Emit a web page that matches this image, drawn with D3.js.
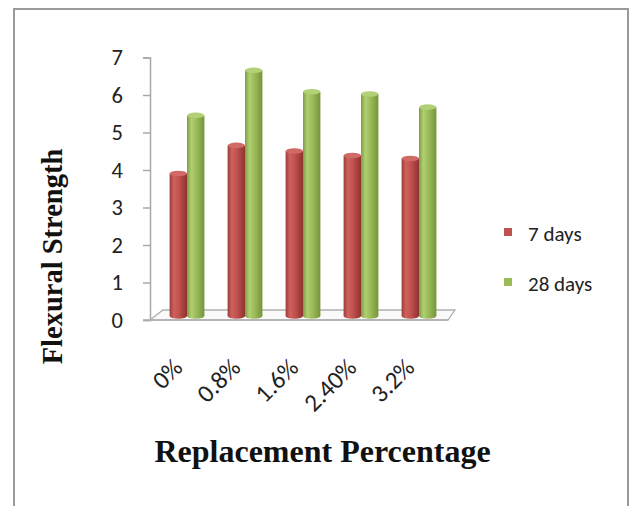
<!DOCTYPE html>
<html>
<head>
<meta charset="utf-8">
<script src="https://cdn.jsdelivr.net/npm/d3@7"></script>
<style>
  html, body { margin: 0; padding: 0; background: #ffffff; }
  svg { display: block; }
</style>
</head>
<body>
<svg id="chart" width="634" height="506"></svg>
<script>
// ---- data ----
const categories = ["0%", "0.8%", "1.6%", "2.40%", "3.2%"];
const seriesNames = ["7 days", "28 days"];
const days7 = [3.8, 4.55, 4.4, 4.28, 4.2];
const days28 = [5.35, 6.55, 5.98, 5.92, 5.57];
const yTicks = [0, 1, 2, 3, 4, 5, 6, 7];
const colors = ["#C0504D", "#9BBB59"];

const svg = d3.select("#chart");
const tickFont = "Carlito, Lato, 'Liberation Sans', sans-serif";
const titleFont = "'Liberation Serif', 'Times New Roman', serif";

// frame
svg.append("rect")
  .attr("x", 14).attr("y", 9).attr("width", 614).attr("height", 520)
  .attr("fill", "#ffffff").attr("stroke", "#9a9a9a").attr("stroke-width", 2);

// scales
const y = d3.scaleLinear().domain([0, 7]).range([320, 57.5]);
const x0 = d3.scaleBand().domain(categories).range([158, 448]).paddingInner(0.4).paddingOuter(0.2);
const x1 = d3.scaleBand().domain(seriesNames).range([0, x0.bandwidth()]).padding(0);

// depth offset (bars stand in the middle of the floor depth)
const depthDx = 0, depthDy = -4;

// floor
const floorG = svg.append("g");
floorG.append("polygon")
  .attr("points", [[150, 320], [163, 310], [455, 310], [448, 320]].map(p => p.join(",")).join(" "))
  .attr("fill", "#fafafa").attr("stroke", "#b0b0b0").attr("stroke-width", 1.3);

// y axis
const yAxis = d3.axisLeft(y).tickValues(yTicks).tickSize(7).tickPadding(20).tickFormat(d3.format("d"));
const yAxisG = svg.append("g").attr("transform", "translate(150,0)").call(yAxis);
yAxisG.select(".domain").attr("stroke", "#a8a8a8").attr("stroke-width", 1.5);
yAxisG.selectAll(".tick line").attr("stroke", "#a8a8a8").attr("stroke-width", 1.5);
yAxisG.selectAll(".tick text")
  .attr("font-family", tickFont).attr("font-size", 22.5).attr("fill", "#222");
// front floor edge extended to tick
svg.append("line").attr("x1", 143).attr("x2", 448).attr("y1", y(0)).attr("y2", y(0))
  .attr("stroke", "#b0b0b0").attr("stroke-width", 1.3);

// gradients
const defs = svg.append("defs");
const gradStops = [
  [["0%", "#9c3c39"], ["25%", "#cf625e"], ["55%", "#c0504d"], ["100%", "#8e332f"]],
  [["0%", "#7e9e41"], ["25%", "#b0cf72"], ["55%", "#9bbb59"], ["100%", "#76933a"]]
];
gradStops.forEach((stops, i) => {
  const g = defs.append("linearGradient").attr("id", "grad" + i)
    .attr("x1", "0%").attr("x2", "100%").attr("y1", "0%").attr("y2", "0%");
  stops.forEach(s => g.append("stop").attr("offset", s[0]).attr("stop-color", s[1]));
});
const capColors = ["#d06a66", "#b2d076"];

// bars (cylinders)
const data = categories.map((c, i) => ({ cat: c, vals: [days7[i], days28[i]] }));
const barG = svg.append("g");
const groups = barG.selectAll("g.grp").data(data).join("g")
  .attr("class", "grp")
  .attr("transform", d => `translate(${x0(d.cat) + depthDx},${depthDy})`);

groups.each(function (d) {
  const g = d3.select(this);
  [1, 0].forEach(si => {
    const v = d.vals[si];
    const bx = x1(seriesNames[si]);
    const w = x1.bandwidth();
    const top = y(v), base = y(0);
    const ry = 2.8;
    g.append("ellipse").attr("cx", bx + w / 2).attr("cy", base).attr("rx", w / 2).attr("ry", ry)
      .attr("fill", `url(#grad${si})`);
    g.append("rect").attr("x", bx).attr("y", top).attr("width", w).attr("height", base - top)
      .attr("fill", `url(#grad${si})`);
    g.append("ellipse").attr("cx", bx + w / 2).attr("cy", top).attr("rx", w / 2).attr("ry", ry)
      .attr("fill", capColors[si]);
  });
});

// x tick labels
svg.append("g").selectAll("text").data(categories).join("text")
  .attr("transform", d => `translate(${x0(d) + x0.bandwidth() / 2 - 3},369) rotate(-45)`)
  .attr("text-anchor", "end")
  .attr("font-family", tickFont).attr("font-size", 25).attr("fill", "#222")
  .text(d => d);

// legend
const legend = svg.append("g");
const legY = [232, 282];
seriesNames.forEach((s, i) => {
  legend.append("rect").attr("x", 504).attr("y", legY[i] - 4).attr("width", 8).attr("height", 8)
    .attr("fill", colors[i]);
  legend.append("text").attr("x", 528).attr("y", legY[i] + 2).attr("dy", "0.35em")
    .attr("font-family", tickFont).attr("font-size", 21).attr("fill", "#222").text(s);
});

// axis titles
svg.append("text")
  .attr("transform", "translate(62,256.5) rotate(-90)")
  .attr("text-anchor", "middle")
  .attr("font-family", titleFont).attr("font-weight", "bold").attr("font-size", 28.5)
  .attr("fill", "#111").text("Flexural Strength");
svg.append("text")
  .attr("x", 322.5).attr("y", 462)
  .attr("text-anchor", "middle")
  .attr("font-family", titleFont).attr("font-weight", "bold").attr("font-size", 32)
  .attr("fill", "#111").text("Replacement Percentage");
</script>
</body>
</html>
